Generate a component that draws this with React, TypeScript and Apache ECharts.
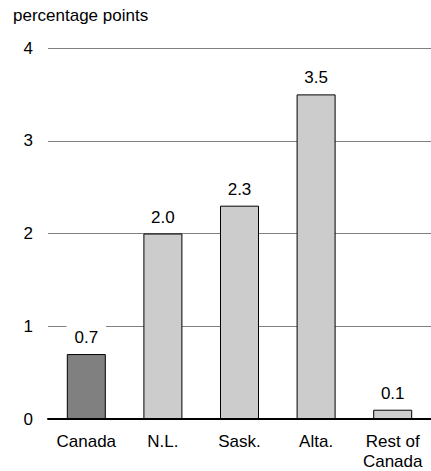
import React, { useEffect, useRef } from "react";
import * as echarts from "echarts";

const categories = ["Canada", "N.L.", "Sask.", "Alta.", "Rest of\nCanada"];
const values = [0.7, 2.0, 2.3, 3.5, 0.1];
const barColors = ["#808080", "#cccccc", "#cccccc", "#cccccc", "#cccccc"];
const yTicks = [0, 1, 2, 3, 4];
const unitLabel = "percentage points";

const FONT = "'Liberation Sans', Arial, sans-serif";
const FS = 17;

export default function App() {
  const ref = useRef<HTMLDivElement>(null);
  useEffect(() => {
    if (!ref.current) return;
    const chart = echarts.init(ref.current, undefined, { renderer: "svg" });
    chart.setOption({
      animation: false,
      backgroundColor: "#ffffff",
      textStyle: { fontFamily: FONT },
      title: {
        text: unitLabel,
        left: 8,
        top: 2,
        textStyle: { fontFamily: FONT, fontSize: FS, fontWeight: "normal", color: "#000" },
      },
      grid: { left: 48, right: -4, top: 48, bottom: 51, containLabel: false },
      xAxis: {
        type: "category",
        data: categories,
        axisLine: { show: true, lineStyle: { color: "#000", width: 2 } },
        axisTick: { show: false },
        axisLabel: {
          color: "#000",
          fontSize: FS,
          fontFamily: FONT,
          margin: 12,
          lineHeight: 20,
          interval: 0,
          hideOverlap: false,
        },
        z: 10,
      },
      yAxis: {
        type: "value",
        min: yTicks[0],
        max: yTicks[yTicks.length - 1],
        interval: 1,
        axisLine: { show: false },
        axisTick: { show: false },
        axisLabel: { color: "#000", fontSize: FS, fontFamily: FONT, margin: 15 },
        splitLine: { show: true, lineStyle: { color: "#808080", width: 1 } },
      },
      series: [
        {
          type: "bar",
          barWidth: 39,
          data: values.map((v, i) => ({
            value: v,
            itemStyle: { color: barColors[i], borderColor: "#000", borderWidth: 1 },
          })),
          label: {
            show: true,
            position: "top",
            distance: 6,
            formatter: (p: any) => Number(p.value).toFixed(1),
            color: "#000",
            fontSize: FS,
            fontFamily: FONT,
            backgroundColor: "#ffffff",
            padding: [5, 8, 2, 8],
          },
        },
      ],
    });
    return () => chart.dispose();
  }, []);
  return (
    <div
      ref={ref}
      style={{ position: "absolute", left: 0, top: 0, width: 431, height: 471 }}
    />
  );
}
